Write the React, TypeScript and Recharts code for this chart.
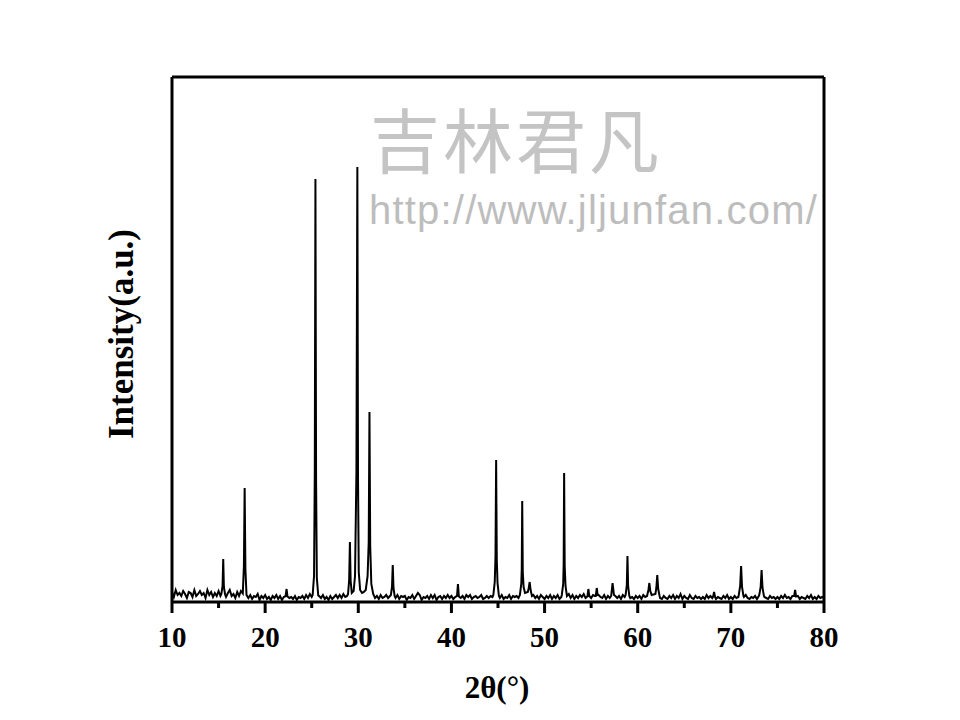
import React from 'react';
import { LineChart, Line, XAxis, YAxis, ReferenceLine } from 'recharts';

// background counts, one value every 0.2° from 10° to 80° (one row per degree)
const BASE_START = 10;
const BASE_STEP = 0.2;
const baselineCounts = [
  100, 50, 120, 70, 90,
  60, 110, 80, 40, 100,
  90, 50, 120, 60, 80,
  110, 70, 90, 40, 120,
  70, 100, 50, 90, 60,
  110, 60, 80, 100, 50,
  90, 120, 60, 80, 40,
  100, 60, 110, 70, 50,
  80, 40, 70, 30, 60,
  50, 80, 20, 60, 40,
  70, 30, 50, 20, 60,
  40, 70, 30, 60, 20,
  50, 30, 80, 40, 50,
  30, 60, 20, 50, 40,
  60, 30, 70, 40, 80,
  50, 40, 30, 70, 60,
  40, 70, 30, 50, 20,
  60, 30, 50, 70, 40,
  70, 40, 80, 50, 60,
  60, 70, 50, 80, 60,
  70, 60, 80, 50, 90,
  60, 80, 50, 70, 40,
  60, 30, 70, 40, 50,
  70, 40, 60, 30, 80,
  40, 70, 30, 60, 50,
  60, 20, 50, 40, 70,
  30, 60, 90, 70, 20,
  50, 40, 60, 30, 70,
  40, 70, 20, 50, 60,
  30, 60, 40, 70, 40,
  60, 30, 50, 40, 70,
  40, 60, 30, 70, 50,
  70, 30, 50, 60, 40,
  50, 70, 30, 40, 60,
  40, 60, 50, 70, 60,
  60, 40, 70, 30, 50,
  40, 70, 30, 60, 50,
  60, 40, 70, 50, 40,
  70, 50, 60, 40, 70,
  40, 60, 30, 70, 50,
  30, 60, 40, 70, 30,
  60, 40, 70, 30, 50,
  40, 60, 50, 80, 40,
  70, 30, 60, 40, 70,
  50, 80, 40, 60, 50,
  40, 70, 60, 50, 70,
  50, 40, 70, 30, 60,
  40, 70, 50, 60, 40,
  60, 30, 70, 50, 40,
  70, 40, 50, 30, 60,
  40, 60, 30, 70, 50,
  60, 40, 70, 50, 60,
  50, 70, 40, 30, 60,
  40, 30, 60, 40, 70,
  30, 60, 40, 80, 30,
  60, 40, 30, 70, 40,
  30, 60, 40, 50, 30,
  50, 30, 70, 40, 60,
  40, 60, 30, 50, 40,
  30, 60, 40, 70, 30,
  50, 30, 60, 40, 50,
  40, 60, 50, 70, 40,
  30, 50, 40, 60, 30,
  60, 40, 70, 50, 40,
  30, 60, 40, 50, 30,
  50, 30, 60, 40, 70,
  40, 50, 30, 60, 40,
  50, 60, 30, 50, 40,
  30, 60, 40, 70, 30,
  50, 30, 60, 40, 50,
  40,
];

// diffraction peaks: [2θ, counts] points for each reflection group
const peakGroups: [number, number][][] = [
  [[15.3, 80], [15.43, 160], [15.5, 430], [15.57, 150], [15.7, 75]],
  [[17.6, 85], [17.72, 360], [17.8, 1140], [17.88, 330], [18.0, 70]],
  [[22.2, 60], [22.3, 130], [22.4, 55]],
  [[25.1, 70], [25.25, 260], [25.33, 1300], [25.4, 4230], [25.47, 1200], [25.55, 240], [25.7, 65]],
  [
    [28.9, 80], [29.02, 220], [29.1, 600], [29.18, 210], [29.3, 90], [29.5, 110],
    [29.65, 260], [29.8, 1300], [29.9, 4350], [29.97, 1250], [30.05, 300], [30.2, 120],
    [30.4, 90], [30.6, 100], [30.8, 120], [31.0, 260], [31.12, 600], [31.2, 1900],
    [31.28, 560], [31.4, 180], [31.6, 80],
  ],
  [[33.5, 70], [33.62, 150], [33.7, 370], [33.78, 140], [33.9, 60]],
  [[40.6, 60], [40.7, 180], [40.8, 55]],
  [[44.5, 70], [44.65, 200], [44.73, 450], [44.8, 1420], [44.87, 420], [44.95, 190], [45.1, 60]],
  [
    [47.35, 70], [47.5, 180], [47.55, 330], [47.6, 1010], [47.66, 300], [47.75, 150],
    [47.9, 90], [48.2, 100], [48.3, 140], [48.4, 200], [48.5, 120], [48.65, 60],
  ],
  [[51.85, 70], [52.0, 180], [52.05, 380], [52.1, 1290], [52.16, 360], [52.25, 160], [52.4, 60]],
  [[54.6, 55], [54.7, 130], [54.8, 60]],
  [[55.5, 60], [55.6, 140], [55.7, 70]],
  [[57.15, 60], [57.3, 190], [57.45, 70]],
  [[58.7, 70], [58.83, 170], [58.9, 460], [58.97, 160], [59.1, 60]],
  [
    [61.0, 60], [61.15, 120], [61.25, 190], [61.35, 110], [61.5, 70],
    [61.9, 80], [62.0, 140], [62.1, 270], [62.2, 130], [62.35, 60],
  ],
  [[68.1, 55], [68.2, 100], [68.3, 50]],
  [[70.85, 70], [71.0, 160], [71.1, 360], [71.2, 150], [71.35, 60]],
  [[73.05, 70], [73.2, 150], [73.3, 320], [73.4, 140], [73.55, 60]],
  [[76.8, 60], [76.9, 120], [77.0, 55]],
];

const xTicks = [10, 15, 20, 25, 30, 35, 40, 45, 50, 55, 60, 65, 70, 75, 80];
const Y_MAX = 5250;

const serif = '"Liberation Serif", "Times New Roman", serif';

function buildData() {
  const ranges = peakGroups.map((g) => [g[0][0], g[g.length - 1][0]]);
  const rows: { theta: number; counts: number }[] = [];
  baselineCounts.forEach((c, i) => {
    const theta = Math.round((BASE_START + i * BASE_STEP) * 100) / 100;
    if (!ranges.some(([a, b]) => theta >= a && theta <= b)) rows.push({ theta, counts: c });
  });
  peakGroups.forEach((g) => g.forEach(([theta, counts]) => rows.push({ theta, counts })));
  return rows.sort((a, b) => a.theta - b.theta);
}

const data = buildData();

function BottomTick(props: any) {
  const { x, y, payload } = props;
  const v = payload.value;
  const major = v % 10 === 0;
  return (
    <g>
      <line x1={x} x2={x} y1={y} y2={y + (major ? 11 : 6)} stroke="#000" strokeWidth={3} />
      {major && (
        <text x={x} y={y + 45} textAnchor="middle" fontFamily={serif} fontWeight="bold" fontSize={29} fill="#000">
          {v}
        </text>
      )}
    </g>
  );
}

const frame = { stroke: '#000', strokeWidth: 3 };

export default function App() {
  return (
    <div style={{ position: 'absolute', left: 0, top: 0, width: 960, height: 720, background: '#fff' }}>
      <LineChart width={960} height={720} data={data} margin={{ top: 77, right: 136, bottom: 0, left: 172 }}>
        <XAxis
          dataKey="theta"
          type="number"
          domain={[10, 80]}
          ticks={xTicks}
          interval={0}
          height={118}
          tickSize={0}
          tickMargin={0}
          tickLine={false}
          tick={BottomTick}
          axisLine={frame}
        />
        <YAxis type="number" domain={[0, Y_MAX]} hide />
        <Line
          type="linear"
          dataKey="counts"
          stroke="#000"
          strokeWidth={2}
          dot={false}
          isAnimationActive={false}
        />
        <ReferenceLine x={10} stroke="#000" strokeWidth={3} />
        <ReferenceLine x={80} stroke="#000" strokeWidth={3} />
        <ReferenceLine y={Y_MAX} stroke="#000" strokeWidth={3} />
      </LineChart>
      <svg width={960} height={720} style={{ position: 'absolute', left: 0, top: 0, pointerEvents: 'none' }}>
        <text x={370} y={168} fontFamily='"Noto Sans CJK SC", sans-serif' fontSize={70} letterSpacing={3} fill="#c4c4c4">
          吉林君凡
        </text>
        <text x={369} y={224} fontFamily='"Liberation Sans", Arial, sans-serif' fontSize={40} letterSpacing={1.2} fill="#bdbdbd">
          http://www.jljunfan.com/
        </text>
        <text
          x={133}
          y={334}
          transform="rotate(-90, 133, 334)"
          textAnchor="middle"
          fontFamily={serif}
          fontWeight="bold"
          fontSize={35}
          fill="#000"
        >
          Intensity(a.u.)
        </text>
        <text x={497} y={698} textAnchor="middle" fontFamily={serif} fontWeight="bold" fontSize={31} fill="#000">
          2θ(°)
        </text>
      </svg>
    </div>
  );
}
